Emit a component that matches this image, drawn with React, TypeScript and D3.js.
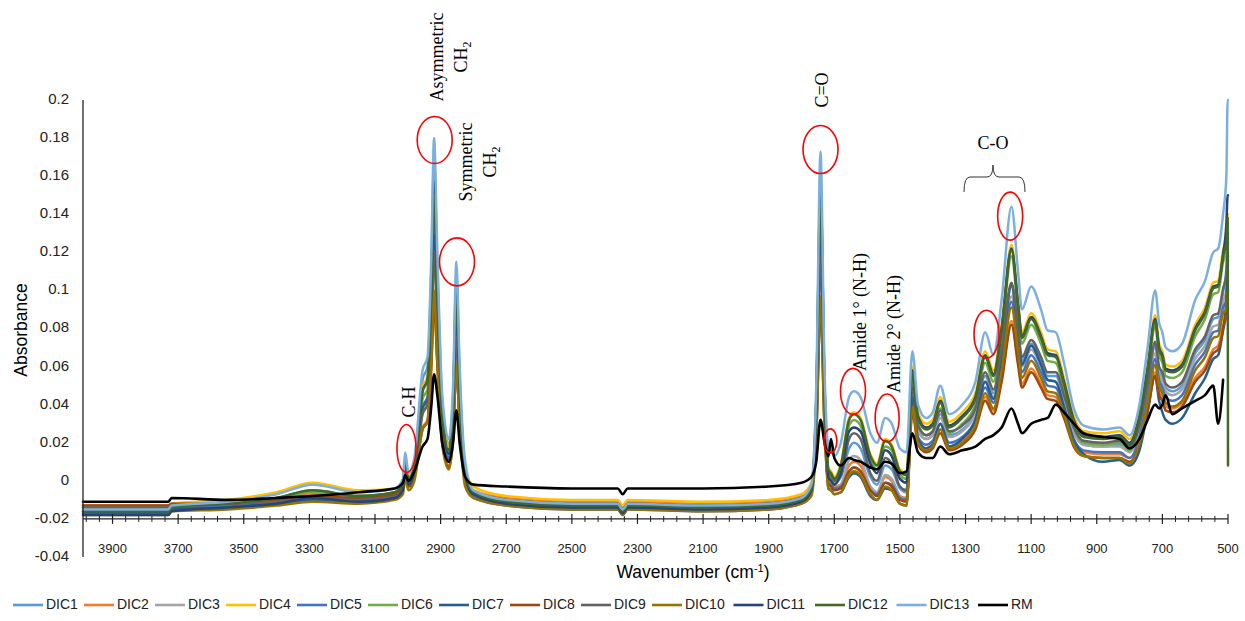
import React from 'react';
import * as d3 from 'd3';

const wavenumbers = [3990, 3850, 3730, 3720, 3550, 3400, 3290, 3150, 3040, 3015,
  3008, 2998, 2980, 2955, 2940, 2928, 2920, 2910, 2895, 2875,
  2862, 2852, 2842, 2825, 2800, 2700, 2500, 2360, 2345, 2330,
  2100, 1900, 1800, 1770, 1755, 1742, 1730, 1718, 1710, 1700,
  1680, 1655, 1640, 1620, 1590, 1570, 1545, 1525, 1500, 1480,
  1462, 1445, 1420, 1400, 1377, 1350, 1310, 1270, 1240, 1215,
  1190, 1160, 1140, 1128, 1100, 1070, 1050, 1025, 1000, 970,
  940, 880, 830, 800, 770, 745, 722, 710, 700, 690,
  670, 640, 600, 570, 545, 530, 515, 505, 501, 500];

const DIC1 = [-0.015, -0.015, -0.015, -0.013, -0.012, -0.009, -0.005, -0.008, -0.006, -0.001,
  0.012, 0.002, 0.009, 0.053, 0.060, 0.112, 0.169, 0.112, 0.041, 0.019,
  0.045, 0.108, 0.056, 0.006, -0.006, -0.011, -0.013, -0.013, -0.016, -0.013,
  -0.014, -0.013, -0.010, -0.004, 0.043, 0.154, 0.052, 0.003, 0.002, -0.001,
  0.002, 0.017, 0.020, 0.017, 0.002, -0.002, 0.008, 0.006, -0.004, -0.006,
  0.047, 0.027, 0.022, 0.024, 0.035, 0.024, 0.027, 0.036, 0.055, 0.046,
  0.067, 0.102, 0.078, 0.063, 0.072, 0.063, 0.055, 0.055, 0.043, 0.026,
  0.019, 0.018, 0.019, 0.016, 0.027, 0.049, 0.071, 0.058, 0.055, 0.049,
  0.047, 0.050, 0.067, 0.074, 0.085, 0.086, 0.099, 0.112, 0.125, 0.125];

const DIC2 = [-0.013, -0.013, -0.013, -0.012, -0.011, -0.009, -0.007, -0.008, -0.006, -0.003,
  0.005, -0.002, 0.003, 0.028, 0.032, 0.062, 0.095, 0.062, 0.021, 0.008,
  0.024, 0.060, 0.030, 0.001, -0.005, -0.009, -0.011, -0.011, -0.014, -0.011,
  -0.012, -0.011, -0.008, -0.004, 0.024, 0.092, 0.030, 0.000, -0.001, -0.003,
  -0.002, 0.008, 0.010, 0.008, -0.003, -0.006, 0.002, 0.000, -0.008, -0.009,
  0.038, 0.021, 0.017, 0.019, 0.027, 0.018, 0.021, 0.029, 0.044, 0.037,
  0.054, 0.084, 0.063, 0.051, 0.059, 0.051, 0.045, 0.044, 0.035, 0.020,
  0.015, 0.014, 0.014, 0.012, 0.021, 0.039, 0.057, 0.047, 0.044, 0.039,
  0.038, 0.041, 0.054, 0.060, 0.069, 0.071, 0.081, 0.086, 0.095, 0.095];

const DIC3 = [-0.014, -0.014, -0.014, -0.013, -0.012, -0.010, -0.008, -0.009, -0.007, -0.004,
  0.006, -0.001, 0.004, 0.036, 0.041, 0.080, 0.122, 0.080, 0.027, 0.011,
  0.031, 0.077, 0.039, 0.002, -0.006, -0.010, -0.012, -0.012, -0.015, -0.012,
  -0.013, -0.012, -0.009, -0.004, 0.032, 0.118, 0.039, 0.000, -0.002, -0.004,
  -0.002, 0.011, 0.013, 0.011, -0.003, -0.006, 0.003, 0.001, -0.008, -0.010,
  0.045, 0.026, 0.022, 0.024, 0.033, 0.023, 0.026, 0.035, 0.052, 0.044,
  0.064, 0.097, 0.074, 0.060, 0.069, 0.060, 0.053, 0.052, 0.041, 0.025,
  0.019, 0.018, 0.018, 0.015, 0.026, 0.047, 0.067, 0.056, 0.052, 0.047,
  0.045, 0.048, 0.064, 0.071, 0.081, 0.082, 0.094, 0.100, 0.110, 0.110];

const DIC4 = [-0.014, -0.014, -0.014, -0.012, -0.010, -0.006, -0.001, -0.005, -0.004, 0.000,
  0.012, 0.003, 0.010, 0.049, 0.055, 0.101, 0.152, 0.101, 0.038, 0.018,
  0.042, 0.098, 0.051, 0.007, -0.003, -0.008, -0.010, -0.010, -0.013, -0.010,
  -0.011, -0.010, -0.007, -0.001, 0.043, 0.148, 0.052, 0.007, 0.005, 0.002,
  0.009, 0.033, 0.036, 0.033, 0.014, 0.009, 0.022, 0.019, 0.006, 0.004,
  0.060, 0.036, 0.030, 0.032, 0.044, 0.031, 0.036, 0.046, 0.068, 0.058,
  0.082, 0.124, 0.095, 0.078, 0.088, 0.078, 0.069, 0.068, 0.054, 0.034,
  0.026, 0.025, 0.026, 0.022, 0.036, 0.061, 0.087, 0.072, 0.068, 0.061,
  0.060, 0.063, 0.082, 0.091, 0.104, 0.105, 0.121, 0.128, 0.140, 0.140];

const DIC5 = [-0.016, -0.016, -0.016, -0.014, -0.013, -0.011, -0.009, -0.010, -0.008, -0.004,
  0.006, -0.002, 0.004, 0.039, 0.044, 0.085, 0.130, 0.085, 0.029, 0.012,
  0.033, 0.082, 0.041, 0.001, -0.008, -0.012, -0.014, -0.014, -0.017, -0.014,
  -0.015, -0.014, -0.011, -0.006, 0.033, 0.126, 0.041, -0.001, -0.002, -0.004,
  -0.003, 0.005, 0.007, 0.005, -0.005, -0.007, -0.001, -0.002, -0.009, -0.010,
  0.042, 0.023, 0.019, 0.021, 0.030, 0.020, 0.023, 0.032, 0.049, 0.041,
  0.061, 0.094, 0.071, 0.057, 0.066, 0.057, 0.050, 0.049, 0.038, 0.022,
  0.016, 0.015, 0.015, 0.012, 0.023, 0.044, 0.064, 0.053, 0.049, 0.044,
  0.042, 0.045, 0.061, 0.068, 0.078, 0.079, 0.091, 0.095, 0.105, 0.105];

const DIC6 = [-0.016, -0.016, -0.015, -0.013, -0.012, -0.009, -0.006, -0.008, -0.007, -0.003,
  0.008, -0.001, 0.006, 0.043, 0.048, 0.092, 0.140, 0.092, 0.032, 0.014,
  0.036, 0.089, 0.045, 0.003, -0.006, -0.011, -0.013, -0.013, -0.016, -0.013,
  -0.014, -0.013, -0.010, -0.004, 0.037, 0.136, 0.045, 0.004, 0.002, -0.001,
  0.006, 0.029, 0.032, 0.029, 0.011, 0.006, 0.018, 0.016, 0.003, 0.001,
  0.054, 0.030, 0.024, 0.026, 0.038, 0.025, 0.030, 0.040, 0.062, 0.052,
  0.076, 0.118, 0.089, 0.072, 0.082, 0.072, 0.063, 0.062, 0.048, 0.028,
  0.020, 0.019, 0.020, 0.016, 0.030, 0.055, 0.081, 0.066, 0.062, 0.055,
  0.054, 0.057, 0.076, 0.085, 0.098, 0.099, 0.115, 0.120, 0.130, 0.130];

const DIC7 = [-0.017, -0.017, -0.017, -0.015, -0.014, -0.012, -0.010, -0.011, -0.009, -0.005,
  0.005, -0.003, 0.003, 0.038, 0.043, 0.084, 0.129, 0.084, 0.028, 0.011,
  0.032, 0.081, 0.040, 0.000, -0.009, -0.013, -0.015, -0.015, -0.018, -0.015,
  -0.016, -0.015, -0.012, -0.007, 0.032, 0.125, 0.040, -0.004, -0.005, -0.007,
  -0.006, 0.002, 0.004, 0.002, -0.008, -0.010, -0.004, -0.005, -0.012, -0.013,
  0.044, 0.022, 0.017, 0.019, 0.030, 0.018, 0.022, 0.032, 0.052, 0.043,
  0.065, 0.103, 0.077, 0.061, 0.071, 0.061, 0.053, 0.052, 0.039, 0.021,
  0.014, 0.010, 0.011, 0.008, 0.016, 0.036, 0.055, 0.042, 0.036, 0.032,
  0.030, 0.033, 0.046, 0.054, 0.064, 0.066, 0.080, 0.095, 0.118, 0.118];

const DIC8 = [-0.013, -0.013, -0.013, -0.012, -0.012, -0.010, -0.008, -0.009, -0.007, -0.004,
  0.004, -0.003, 0.002, 0.027, 0.031, 0.061, 0.094, 0.061, 0.020, 0.007,
  0.023, 0.059, 0.029, 0.000, -0.006, -0.010, -0.012, -0.012, -0.015, -0.012,
  -0.013, -0.012, -0.009, -0.005, 0.023, 0.091, 0.029, -0.002, -0.003, -0.005,
  -0.004, 0.005, 0.007, 0.005, -0.005, -0.008, -0.001, -0.003, -0.010, -0.011,
  0.036, 0.019, 0.015, 0.017, 0.025, 0.016, 0.019, 0.027, 0.042, 0.035,
  0.052, 0.082, 0.061, 0.049, 0.057, 0.049, 0.043, 0.042, 0.033, 0.018,
  0.013, 0.012, 0.012, 0.010, 0.019, 0.037, 0.055, 0.045, 0.042, 0.037,
  0.036, 0.039, 0.052, 0.058, 0.067, 0.069, 0.079, 0.090, 0.100, 0.100];

const DIC9 = [-0.014, -0.014, -0.014, -0.013, -0.012, -0.011, -0.009, -0.010, -0.008, -0.005,
  0.005, -0.002, 0.003, 0.035, 0.040, 0.079, 0.121, 0.079, 0.026, 0.010,
  0.030, 0.076, 0.038, 0.002, -0.006, -0.010, -0.012, -0.012, -0.015, -0.012,
  -0.013, -0.012, -0.009, -0.004, 0.032, 0.118, 0.039, 0.004, 0.003, 0.000,
  0.003, 0.022, 0.025, 0.022, 0.004, 0.000, 0.012, 0.009, -0.003, -0.005,
  0.049, 0.029, 0.024, 0.026, 0.037, 0.026, 0.029, 0.038, 0.057, 0.048,
  0.069, 0.104, 0.080, 0.065, 0.074, 0.065, 0.057, 0.057, 0.045, 0.028,
  0.021, 0.020, 0.021, 0.018, 0.029, 0.051, 0.073, 0.060, 0.057, 0.051,
  0.049, 0.052, 0.069, 0.076, 0.087, 0.088, 0.101, 0.108, 0.120, 0.120];

const DIC10 = [-0.018, -0.018, -0.018, -0.016, -0.015, -0.013, -0.011, -0.012, -0.010, -0.007,
  0.001, -0.005, 0.000, 0.027, 0.031, 0.064, 0.100, 0.064, 0.019, 0.006,
  0.022, 0.062, 0.029, -0.003, -0.009, -0.013, -0.015, -0.015, -0.018, -0.015,
  -0.016, -0.015, -0.012, -0.008, 0.023, 0.097, 0.029, -0.004, -0.005, -0.007,
  -0.006, 0.003, 0.005, 0.003, -0.007, -0.010, -0.003, -0.005, -0.012, -0.013,
  0.039, 0.020, 0.016, 0.018, 0.027, 0.017, 0.020, 0.029, 0.046, 0.038,
  0.058, 0.091, 0.068, 0.054, 0.063, 0.054, 0.047, 0.046, 0.035, 0.019,
  0.013, 0.012, 0.012, 0.009, 0.020, 0.041, 0.061, 0.050, 0.046, 0.041,
  0.039, 0.042, 0.058, 0.065, 0.075, 0.076, 0.088, 0.090, 0.100, 0.100];

const DIC11 = [-0.018, -0.018, -0.018, -0.016, -0.014, -0.012, -0.009, -0.011, -0.009, -0.005,
  0.008, -0.002, 0.005, 0.047, 0.053, 0.103, 0.157, 0.103, 0.035, 0.014,
  0.040, 0.099, 0.050, 0.003, -0.007, -0.012, -0.014, -0.014, -0.017, -0.014,
  -0.015, -0.014, -0.011, -0.005, 0.042, 0.153, 0.051, 0.002, 0.000, -0.002,
  0.004, 0.026, 0.028, 0.026, 0.009, 0.004, 0.016, 0.013, 0.001, -0.001,
  0.058, 0.034, 0.028, 0.030, 0.042, 0.029, 0.034, 0.044, 0.066, 0.056,
  0.080, 0.122, 0.093, 0.076, 0.086, 0.076, 0.067, 0.066, 0.052, 0.032,
  0.024, 0.023, 0.024, 0.020, 0.034, 0.059, 0.085, 0.070, 0.066, 0.059,
  0.058, 0.061, 0.080, 0.089, 0.102, 0.103, 0.119, 0.135, 0.150, 0.150];

const DIC12 = [-0.016, -0.016, -0.016, -0.014, -0.012, -0.009, -0.005, -0.008, -0.006, -0.002,
  0.010, 0.001, 0.008, 0.047, 0.053, 0.099, 0.150, 0.099, 0.036, 0.016,
  0.040, 0.096, 0.049, 0.004, -0.006, -0.011, -0.013, -0.013, -0.016, -0.013,
  -0.014, -0.013, -0.010, -0.004, 0.040, 0.145, 0.049, 0.006, 0.004, 0.001,
  0.008, 0.032, 0.035, 0.032, 0.013, 0.008, 0.021, 0.018, 0.005, 0.003,
  0.057, 0.033, 0.027, 0.029, 0.041, 0.028, 0.033, 0.043, 0.065, 0.055,
  0.079, 0.121, 0.092, 0.075, 0.085, 0.075, 0.066, 0.065, 0.051, 0.031,
  0.023, 0.022, 0.023, 0.019, 0.033, 0.058, 0.084, 0.069, 0.065, 0.058,
  0.057, 0.060, 0.079, 0.088, 0.101, 0.102, 0.118, 0.125, 0.138, 0.008];

const DIC13 = [-0.015, -0.015, -0.015, -0.013, -0.011, -0.007, -0.002, -0.006, -0.004, 0.001,
  0.015, 0.004, 0.012, 0.058, 0.065, 0.120, 0.180, 0.120, 0.045, 0.022,
  0.050, 0.115, 0.060, 0.010, -0.005, -0.010, -0.012, -0.012, -0.015, -0.012,
  -0.013, -0.012, -0.009, -0.002, 0.050, 0.173, 0.060, 0.018, 0.016, 0.013,
  0.020, 0.044, 0.047, 0.044, 0.025, 0.020, 0.033, 0.030, 0.017, 0.015,
  0.068, 0.040, 0.033, 0.036, 0.050, 0.035, 0.040, 0.052, 0.078, 0.066,
  0.095, 0.144, 0.110, 0.090, 0.102, 0.090, 0.079, 0.078, 0.062, 0.038,
  0.029, 0.027, 0.028, 0.024, 0.040, 0.070, 0.100, 0.083, 0.078, 0.070,
  0.068, 0.072, 0.095, 0.105, 0.120, 0.122, 0.140, 0.160, 0.200, 0.200];

const RM = [-0.011, -0.011, -0.011, -0.009, -0.010, -0.009, -0.008, -0.006, -0.004, -0.001,
  0.003, 0.000, 0.005, 0.018, 0.022, 0.040, 0.056, 0.045, 0.020, 0.010,
  0.020, 0.037, 0.020, 0.002, -0.002, -0.003, -0.004, -0.004, -0.007, -0.004,
  -0.004, -0.003, -0.001, 0.002, 0.010, 0.032, 0.020, 0.013, 0.022, 0.012,
  0.008, 0.012, 0.011, 0.010, 0.007, 0.006, 0.010, 0.009, 0.004, 0.005,
  0.025, 0.015, 0.012, 0.012, 0.018, 0.014, 0.016, 0.018, 0.022, 0.024,
  0.028, 0.038, 0.030, 0.025, 0.030, 0.032, 0.033, 0.040, 0.036, 0.030,
  0.025, 0.023, 0.022, 0.017, 0.022, 0.032, 0.040, 0.038, 0.040, 0.045,
  0.035, 0.038, 0.042, 0.045, 0.050, 0.030, 0.053, null, null, null];

const seriesNames = ['DIC1', 'DIC2', 'DIC3', 'DIC4', 'DIC5', 'DIC6', 'DIC7', 'DIC8', 'DIC9', 'DIC10', 'DIC11', 'DIC12', 'DIC13', 'RM'];
const seriesValues = [DIC1, DIC2, DIC3, DIC4, DIC5, DIC6, DIC7, DIC8, DIC9, DIC10, DIC11, DIC12, DIC13, RM];
const seriesColors = ['#5B9BD5', '#ED7D31', '#A5A5A5', '#FFC000', '#4472C4', '#70AD47', '#255E91', '#9E480E', '#636363', '#997300', '#264478', '#43682B', '#7CAFDD', '#000000'];

const xTickValues = [3900, 3700, 3500, 3300, 3100, 2900, 2700, 2500, 2300, 2100, 1900, 1700, 1500, 1300, 1100, 900, 700, 500];
const yTickValues = [0.2, 0.18, 0.16, 0.14, 0.12, 0.1, 0.08, 0.06, 0.04, 0.02, 0, -0.02, -0.04];

const W = 1245;
const H = 621;

export default function App() {
  const x = d3.scaleLinear().domain([3990, 500]).range([83, 1228]);
  const y = d3.scaleLinear().domain([-0.04, 0.2]).range([557, 100]);
  const axisY = y(-0.02);

  const line = d3.line<[number, number | null]>()
    .defined((d) => d[1] !== null)
    .x((d) => x(d[0]))
    .y((d) => y(d[1] as number))
    .curve(d3.curveMonotoneX);

  const minorTicks = d3.range(540, 3990, 40).filter((v) => (v - 500) % 200 !== 0);

  const sans = "'Liberation Sans', Arial, sans-serif";
  const serif = "'Liberation Serif', 'Times New Roman', serif";

  // legend layout
  let lx = 13;
  const legendItems = seriesNames.map((name, i) => {
    const item = { name, color: seriesColors[i], x: lx };
    lx += 30 + 3 + name.length * 10.5 - 9 + 5;
    return item;
  });

  const ellipses = [
    { wn: 2918, v: 0.179, rx: 17.5, ry: 23.5 },
    { wn: 2850, v: 0.115, rx: 17.5, ry: 24 },
    { wn: 3004, v: 0.017, rx: 9.5, ry: 24 },
    { wn: 1742, v: 0.174, rx: 17.5, ry: 24 },
    { wn: 1712, v: 0.021, rx: 6.5, ry: 12 },
    { wn: 1643, v: 0.047, rx: 12.5, ry: 23 },
    { wn: 1539, v: 0.033, rx: 12, ry: 24 },
    { wn: 1236, v: 0.077, rx: 12.5, ry: 24 },
    { wn: 1164, v: 0.139, rx: 12.5, ry: 24 },
  ];

  const rotLabel = (cx: number, cy: number, lines: React.ReactNode[], gap: number, key: string) => (
    <g key={key} transform={`translate(${cx},${cy}) rotate(-90)`}>
      {lines.map((l, i) => (
        <text key={i} x={0} y={i * gap} textAnchor="middle" fontFamily={serif} fontSize={18} fill="#000">{l}</text>
      ))}
    </g>
  );

  return (
    <svg width={W} height={H} style={{ position: 'absolute', left: 0, top: 0, background: '#fff' }}>
      <rect x={0} y={0} width={W} height={H} fill="#fff" />

      {/* series */}
      {seriesValues.map((vals, i) => {
        const pts = wavenumbers.map((w, j) => [w, vals[j]] as [number, number | null]);
        return (
          <path key={seriesNames[i]} d={line(pts) || ''} fill="none" stroke={seriesColors[i]}
            strokeWidth={i === 13 ? 2.6 : 2.5} strokeLinejoin="round" strokeLinecap="round" />
        );
      })}

      {/* y axis */}
      <line x1={83} x2={83} y1={100} y2={557} stroke="#222" strokeWidth={1.3} />
      {yTickValues.map((v) => (
        <text key={v} x={69} y={y(v)} textAnchor="end" dominantBaseline="middle" fontFamily={sans} fontSize={15} fill="#222">
          {String(Number(v.toFixed(2)))}
        </text>
      ))}
      <text transform={`translate(27,330) rotate(-90)`} textAnchor="middle" fontFamily={sans} fontSize={17.5} fill="#000">Absorbance</text>

      {/* x axis */}
      <line x1={83} x2={1228} y1={axisY} y2={axisY} stroke="#222" strokeWidth={1.3} />
      {minorTicks.map((v) => (
        <line key={`m${v}`} x1={x(v)} x2={x(v)} y1={axisY - 3} y2={axisY + 3} stroke="#222" strokeWidth={1} />
      ))}
      {xTickValues.map((v) => (
        <g key={v}>
          <line x1={x(v)} x2={x(v)} y1={axisY - 5} y2={axisY + 5} stroke="#222" strokeWidth={1.2} />
          <text x={x(v)} y={553} textAnchor="middle" fontFamily={sans} fontSize={13} fill="#222">{v}</text>
        </g>
      ))}
      <text x={693} y={578} textAnchor="middle" fontFamily={sans} fontSize={17.5} fill="#000">
        Wavenumber (cm<tspan dy={-6} fontSize={11}>-1</tspan><tspan dy={6}>)</tspan>
      </text>

      {/* annotations */}
      {ellipses.map((e, i) => (
        <ellipse key={i} cx={x(e.wn)} cy={y(e.v)} rx={e.rx} ry={e.ry} fill="none" stroke="#FF0000" strokeWidth={1.6} />
      ))}
      {rotLabel(443, 57, ['Asymmetric', <tspan key="a">CH<tspan dy={4} fontSize={12}>2</tspan></tspan>], 24, 'asym')}
      {rotLabel(472, 162, ['Symmetric', <tspan key="s">CH<tspan dy={4} fontSize={12}>2</tspan></tspan>], 24, 'sym')}
      {rotLabel(415, 402, ['C-H'], 0, 'ch')}
      {rotLabel(828, 90, ['C=O'], 0, 'co')}
      {rotLabel(866, 312, ['Amide 1° (N-H)'], 0, 'am1')}
      {rotLabel(900, 334, ['Amide 2° (N-H)'], 0, 'am2')}
      <text x={993} y={149} textAnchor="middle" fontFamily={serif} fontSize={18} fill="#000">C-O</text>
      <path d="M964,192 Q964,177 970,177 L987,177 Q993,177 993,165 Q993,177 999,177 L1019,177 Q1025,177 1025,192"
        fill="none" stroke="#333" strokeWidth={1} />

      {/* legend */}
      {legendItems.map((it) => (
        <g key={it.name}>
          <line x1={it.x} x2={it.x + 30} y1={605} y2={605} stroke={it.color} strokeWidth={2.6} />
          <text x={it.x + 33} y={605} dominantBaseline="middle" fontFamily={sans} fontSize={14} fill="#222">{it.name}</text>
        </g>
      ))}
    </svg>
  );
}
